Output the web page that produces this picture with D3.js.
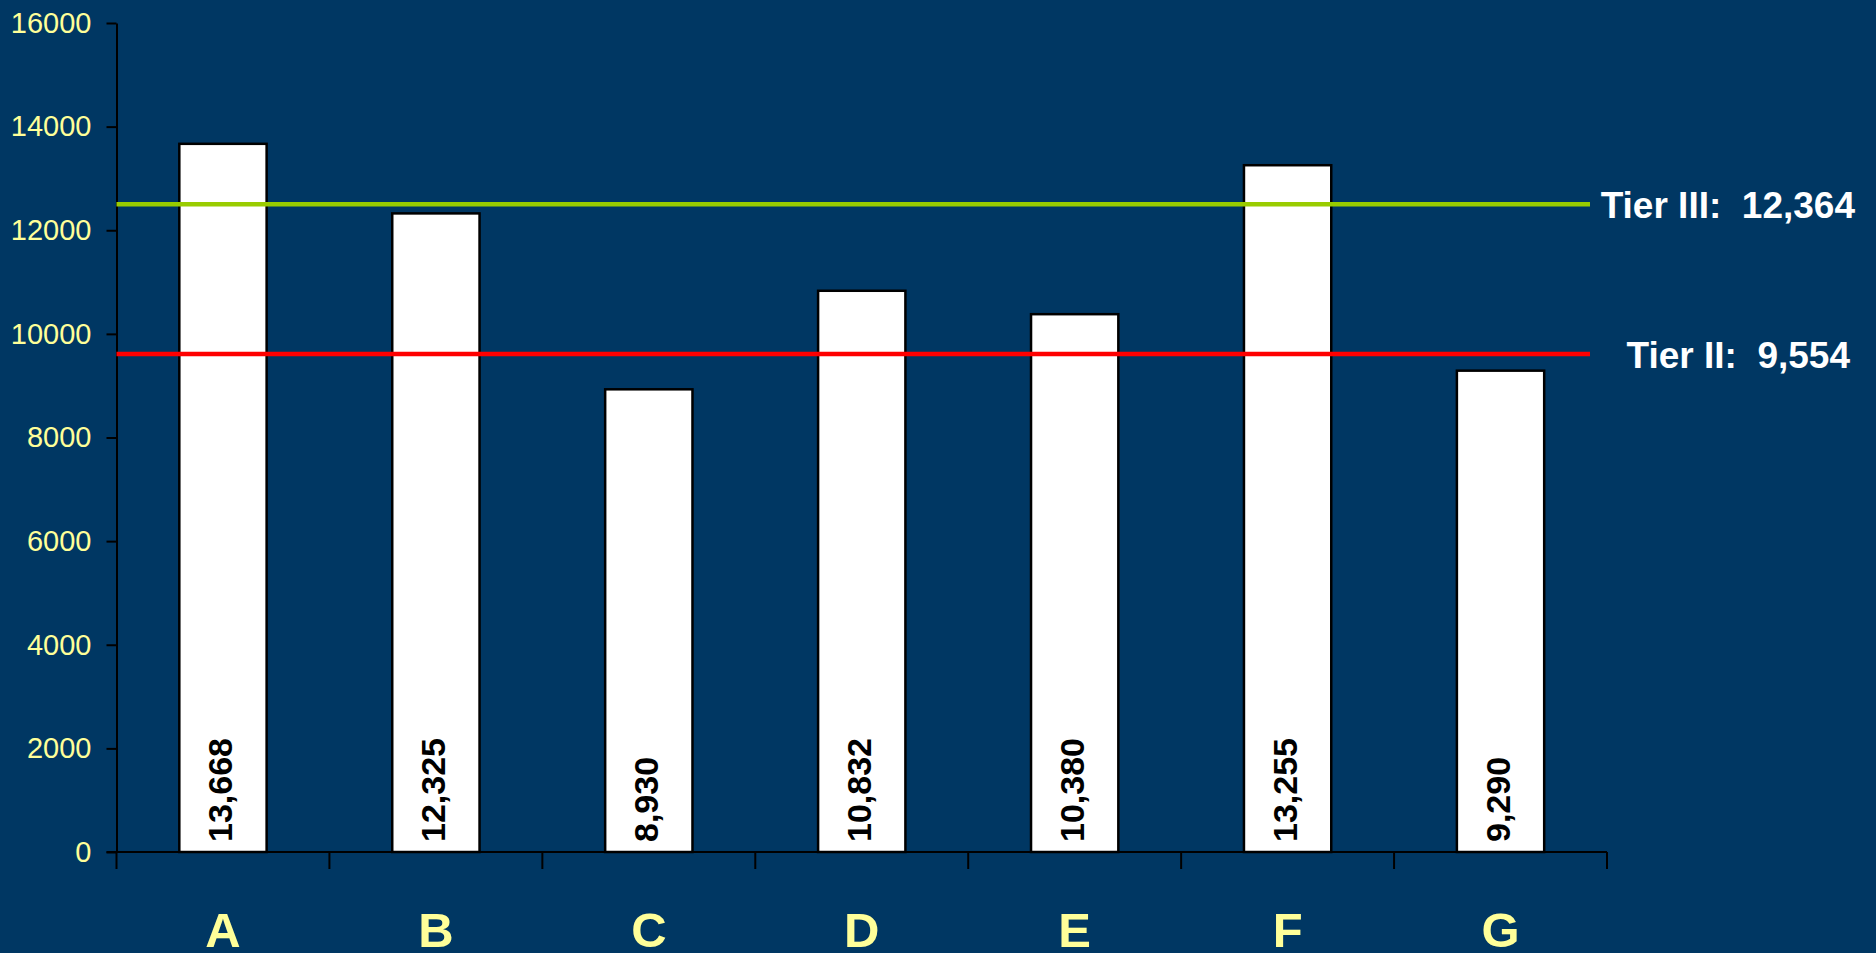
<!DOCTYPE html>
<html>
<head>
<meta charset="utf-8">
<script src="https://cdn.jsdelivr.net/npm/d3@7"></script>
<style>
  html, body { margin: 0; padding: 0; background: #003763; }
  svg { display: block; }
</style>
</head>
<body>
<script>
var categories = ['A', 'B', 'C', 'D', 'E', 'F', 'G'];
var values = [13668, 12325, 8930, 10832, 10380, 13255, 9290];
var yTicks = [0, 2000, 4000, 6000, 8000, 10000, 12000, 14000, 16000];
// reference lines as drawn in the picture, with their printed labels
var tierLevels = [12500, 9610];
var tierLabels = ['Tier III:  12,364', 'Tier II:  9,554'];
var tierColors = ['#99CC00', '#FF0000'];

var width = 1876, height = 953;
var plotLeft = 116.5, plotRight = 1607, plotTop = 23, plotBottom = 852;

var svg = d3.select('body').append('svg')
  .attr('width', width)
  .attr('height', height);

svg.append('rect')
  .attr('width', width)
  .attr('height', height)
  .attr('fill', '#003763');

var y = d3.scaleLinear().domain([0, 16000]).range([plotBottom, plotTop]);
var band = d3.scaleBand().domain(categories).range([plotLeft, plotRight]).padding(0);
var barFrac = 0.41;

// y axis
var yAxis = svg.append('g')
  .attr('transform', 'translate(' + plotLeft + ',0)')
  .call(d3.axisLeft(y).tickValues(yTicks).tickFormat(d3.format('d'))
    .tickSize(10).tickPadding(15).tickSizeOuter(0));
yAxis.select('.domain').attr('stroke', '#000').attr('stroke-width', 2);
yAxis.selectAll('.tick line').attr('stroke', '#000').attr('stroke-width', 2);
yAxis.selectAll('.tick text')
  .attr('fill', '#FFFF99')
  .style('font-family', 'Liberation Sans, Arial, sans-serif')
  .style('font-size', '29px');

// bars
svg.selectAll('.bar')
  .data(values)
  .enter().append('rect')
  .attr('class', 'bar')
  .attr('x', function(d, i) { return band(categories[i]) + band.bandwidth() * (1 - barFrac) / 2; })
  .attr('width', band.bandwidth() * barFrac)
  .attr('y', function(d) { return y(d); })
  .attr('height', function(d) { return plotBottom - y(d); })
  .attr('fill', '#fff')
  .attr('stroke', '#000')
  .attr('stroke-width', 2.5);

// x axis line and category ticks
svg.append('line')
  .attr('x1', plotLeft - 10).attr('x2', plotRight)
  .attr('y1', plotBottom).attr('y2', plotBottom)
  .attr('stroke', '#000').attr('stroke-width', 2);

var bounds = categories.map(function(c) { return band(c); }).concat([plotRight]);
svg.selectAll('.xtick')
  .data(bounds)
  .enter().append('line')
  .attr('class', 'xtick')
  .attr('x1', function(d) { return d; }).attr('x2', function(d) { return d; })
  .attr('y1', plotBottom).attr('y2', plotBottom + 17)
  .attr('stroke', '#000').attr('stroke-width', 2);

// tier lines
svg.selectAll('.tier')
  .data(tierLevels)
  .enter().append('line')
  .attr('class', 'tier')
  .attr('x1', plotLeft).attr('x2', 1590)
  .attr('y1', function(d) { return y(d); })
  .attr('y2', function(d) { return y(d); })
  .attr('stroke', function(d, i) { return tierColors[i]; })
  .attr('stroke-width', 4.5);

svg.selectAll('.tierLabel')
  .data(tierLevels)
  .enter().append('text')
  .attr('class', 'tierLabel')
  .attr('x', function(d, i) { return i === 0 ? 1855 : 1850; })
  .attr('y', function(d) { return y(d) + 14; })
  .attr('text-anchor', 'end')
  .style('white-space', 'pre')
  .style('font-family', 'Liberation Sans, Arial, sans-serif')
  .style('font-weight', 'bold')
  .style('font-size', '37px')
  .attr('fill', '#fff')
  .text(function(d, i) { return tierLabels[i]; });

// value labels inside bars
var fmt = d3.format(',');
svg.selectAll('.val')
  .data(values)
  .enter().append('text')
  .attr('class', 'val')
  .attr('transform', function(d, i) {
    var cx = band(categories[i]) + band.bandwidth() / 2;
    return 'translate(' + (cx + 9) + ',' + (plotBottom - 10) + ') rotate(-90)';
  })
  .attr('text-anchor', 'start')
  .style('font-family', 'Liberation Sans, Arial, sans-serif')
  .style('font-weight', 'bold')
  .style('font-size', '34px')
  .attr('fill', '#000')
  .text(function(d) { return fmt(d); });

// category labels
svg.selectAll('.cat')
  .data(categories)
  .enter().append('text')
  .attr('class', 'cat')
  .attr('x', function(d) { return band(d) + band.bandwidth() / 2; })
  .attr('y', 947)
  .attr('text-anchor', 'middle')
  .style('font-family', 'Liberation Sans, Arial, sans-serif')
  .style('font-weight', 'bold')
  .style('font-size', '49px')
  .attr('fill', '#FFFF99')
  .text(function(d) { return d; });
</script>
</body>
</html>
